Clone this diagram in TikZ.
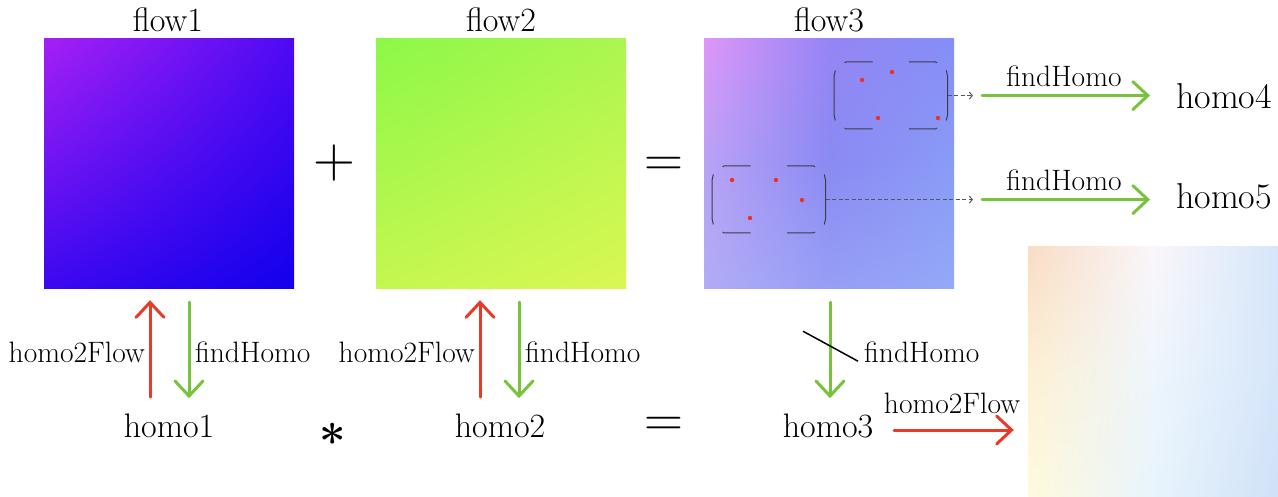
\documentclass[tikz,border=0pt]{standalone}
\usepackage{fontspec}
\usetikzlibrary{arrows.meta,calc,shadings}
\definecolor{arrgreen}{RGB}{120,195,60}
\definecolor{arrred}{RGB}{232,58,40}
\definecolor{dotred}{RGB}{232,50,40}
\definecolor{boxgray}{RGB}{60,60,70}
\definecolor{conngray}{RGB}{85,85,95}
% flow1
\definecolor{fa}{RGB}{165,32,245}
\definecolor{fb}{RGB}{78,10,242}
\definecolor{fc}{RGB}{60,8,240}
\definecolor{fd}{RGB}{18,0,236}
% flow2
\definecolor{ga}{RGB}{140,248,72}
\definecolor{gb}{RGB}{172,246,80}
\definecolor{gc}{RGB}{196,247,80}
\definecolor{gd}{RGB}{218,247,82}
% flow3 grid
\definecolor{ka}{RGB}{222,150,248}
\definecolor{kb}{RGB}{150,132,245}
\definecolor{kc}{RGB}{132,142,246}
\definecolor{kd}{RGB}{185,162,246}
\definecolor{ke}{RGB}{138,138,243}
\definecolor{kf}{RGB}{138,155,246}
\definecolor{kg}{RGB}{178,172,246}
\definecolor{kh}{RGB}{150,158,245}
\definecolor{ki}{RGB}{148,168,248}
% result grid
\definecolor{ma}{RGB}{249,220,196}
\definecolor{mb}{RGB}{250,246,250}
\definecolor{mc}{RGB}{214,230,250}
\definecolor{md}{RGB}{253,240,212}
\definecolor{me}{RGB}{238,246,252}
\definecolor{mf}{RGB}{214,230,250}
\definecolor{mg}{RGB}{255,250,222}
\definecolor{mh}{RGB}{232,244,252}
\definecolor{mi}{RGB}{208,225,248}
% dashed corner box drawn around a named node (relative to its north west corner)
\newcommand\regionbox[1]{%
  \begin{scope}[shift={(#1.north west)}]
    \draw[cornerbox] (1.2,8.5) to[out=-105,in=90] (0,14) -- (0,53) to[out=-90,in=105] (1.2,58.5);
    \draw[cornerbox] (112.2,8.5) to[out=-75,in=90] (113.4,14) -- (113.4,53) to[out=-90,in=75] (112.2,58.5);
    \draw[cornerbox] (10.5,1) to[out=75,in=180] (14,0) -- (38.4,0);
    \draw[cornerbox] (75,0) -- (99.4,0) to[out=0,in=105] (102.9,1);
    \draw[cornerbox] (10.5,66) to[out=-75,in=180] (14,67) -- (38.4,67);
    \draw[cornerbox] (75,67) -- (99.4,67) to[out=0,in=-105] (102.9,66);
  \end{scope}}
\begin{document}
\begin{tikzpicture}[x=1pt,y=-1pt,
  lbl/.style={font=\fontsize{29.5}{34}\selectfont, inner sep=0pt},
  big/.style={font=\fontsize{34}{40}\selectfont, inner sep=0pt},
  bigger/.style={font=\fontsize{36}{42}\selectfont, inner sep=0pt},
  garrow/.style={draw=arrgreen, line width=3pt, line cap=round, -{Straight Barb[length=15pt,width=28pt,line cap=round]}},
  rarrow/.style={draw=arrred, line width=3pt, line cap=round, -{Straight Barb[length=15pt,width=28pt,line cap=round]}},
  sq/.style={minimum size=250pt, inner sep=0pt, draw=none},
  hbox/.style={minimum width=113.4pt, minimum height=67pt, inner sep=0pt, draw=none},
  cornerbox/.style={draw=boxgray, line width=1pt},
  dconn/.style={draw=conngray, line width=1pt, dash pattern=on 4pt off 2.5pt, -{Straight Barb[length=3pt,width=7pt]}},
  dot/.style={fill=dotred}
]
\useasboundingbox (0,0) rectangle (1278,496);

% images
\shade[upper left=fa, upper right=fb, lower left=fc, lower right=fd] (44,38) rectangle (294,288);
\shade[upper left=ga, upper right=gb, lower left=gc, lower right=gd] (376,38) rectangle (626,288);

\shade[upper left=ka, upper right=kb, lower left=kd, lower right=ke] (704,38) rectangle (829.5,163.5);
\shade[upper left=kb, upper right=kc, lower left=ke, lower right=kf] (829,38) rectangle (954,163.5);
\shade[upper left=kd, upper right=ke, lower left=kg, lower right=kh] (704,163) rectangle (829.5,288);
\shade[upper left=ke, upper right=kf, lower left=kh, lower right=ki] (829,163) rectangle (954,288);

\shade[upper left=ma, upper right=mb, lower left=md, lower right=me] (1028,246) rectangle (1153.5,371.5);
\shade[upper left=mb, upper right=mc, lower left=me, lower right=mf] (1153,246) rectangle (1278,371.5);
\shade[upper left=md, upper right=me, lower left=mg, lower right=mh] (1028,371) rectangle (1153.5,496);
\shade[upper left=me, upper right=mf, lower left=mh, lower right=mi] (1153,371) rectangle (1278,496);

\node[sq] (f1) at (169,163) {};
\node[sq] (f2) at (501,163) {};
\node[sq] (f3) at (829,163) {};
\node[sq] (f4) at (1153,371) {};

% titles
\node[big, anchor=base] (t1) at (168,31) {flow1};
\node[big, anchor=base] (t2) at (501,31) {flow2};
\node[big, anchor=base] (t3) at (829,31) {flow3};

% operators
\node[font=\fontsize{58}{60}\selectfont, inner sep=0pt, anchor=base] (plus) at (334,177.5) {+};
\node[font=\fontsize{54}{56}\selectfont, inner sep=0pt, anchor=base] (eqa) at (664,176) {=};
\node[font=\fontsize{54}{56}\selectfont, inner sep=0pt, anchor=base] (eqb) at (664,436) {=};
\node[font=\fontsize{47}{50}\selectfont\bfseries, inner sep=0pt, anchor=base] (ast) at (333,458) {*};

% homographies
\node[big, anchor=base] (h1) at (169,437) {homo1};
\node[big, anchor=base] (h2) at (500,437) {homo2};
\node[big, anchor=base] (h3) at (828,437) {homo3};
\node[bigger, anchor=base] (h4) at (1224,108) {homo4};
\node[bigger, anchor=base] (h5) at (1224,208) {homo5};

% column 1
\draw[rarrow] ($(f1.south)+(-19,109)$) -- ($(f1.south)+(-19,12)$);
\draw[garrow] ($(f1.south)+(20,14)$) -- ($(f1.south)+(20,110)$);
\node[lbl, anchor=base east] (l1a) at (145,362) {homo2Flow};
\node[lbl, anchor=base west] (l1b) at (195,362) {findHomo};

% column 2
\draw[rarrow] ($(f2.south)+(-21,109)$) -- ($(f2.south)+(-21,12)$);
\draw[garrow] ($(f2.south)+(18,14)$) -- ($(f2.south)+(18,110)$);
\node[lbl, anchor=base east] (l2a) at (475,362) {homo2Flow};
\node[lbl, anchor=base west] (l2b) at (525,362) {findHomo};

% column 3
\draw[garrow] ($(f3.south)+(1,14)$) -- ($(f3.south)+(1,110)$);
\draw[line width=1.5pt] ($(f3.south)+(-26,43)$) -- ($(f3.south)+(29,73)$);
\node[lbl, anchor=base west] (l3b) at (864,362) {findHomo};

% homo3 -> result
\draw[rarrow] (894,430) -- ($(f4.west)+(-14,59)$);
\node[lbl, anchor=base] (l4) at (952,413) {homo2Flow};

% dashed regions in flow3
\node[hbox] (b1) at (891,95.6) {};
\node[hbox] (b2) at (769,199.6) {};
\regionbox{b1}
\regionbox{b2}

\fill[dot] (862,80) circle[radius=2.2pt];
\fill[dot] (892,72) circle[radius=2.2pt];
\fill[dot] (878,118) circle[radius=2.2pt];
\fill[dot] (938,118) circle[radius=2.2pt];
\fill[dot] (732,180) circle[radius=2.2pt];
\fill[dot] (776,180) circle[radius=2.2pt];
\fill[dot] (802,200) circle[radius=2.2pt];
\fill[dot] (750,218) circle[radius=2.2pt];

\coordinate (c1) at (973,95.6);
\coordinate (c2) at (973,199.6);
\draw[dconn] (b1.east) -- (c1);
\draw[dconn] (b2.east) -- (c2);

\draw[garrow] ($(c1)+(9,0)$) -- ($(c1)+(177,0)$);
\draw[garrow] ($(c2)+(9,0)$) -- ($(c2)+(177,0)$);
\node[lbl, anchor=base] (l5) at (1064,86) {findHomo};
\node[lbl, anchor=base] (l6) at (1064,190) {findHomo};
\end{tikzpicture}
\end{document}
